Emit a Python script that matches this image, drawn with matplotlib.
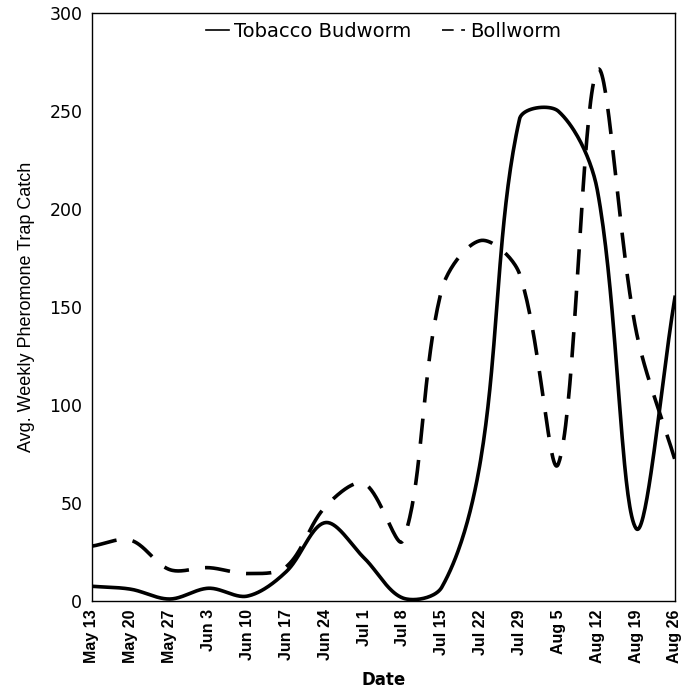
import numpy as np
import matplotlib
matplotlib.use("Agg")
import matplotlib.pyplot as plt

dates = ['May 13', 'May 20', 'May 27', 'Jun 3', 'Jun 10', 'Jun 17', 'Jun 24', 'Jul 1',
         'Jul 8', 'Jul 15', 'Jul 22', 'Jul 29', 'Aug 5', 'Aug 12', 'Aug 19', 'Aug 26']
budworm = [7.5, 6, 1, 6.5, 2.5, 15, 40, 22, 1.5, 7, 72, 246, 250, 210, 37, 155]
bollworm = [28, 31, 16, 17, 14, 17.5, 48, 60, 31, 159, 184, 167, 70, 271, 138, 72]

# rough screen scale of the plot area (px per week, px per catch unit)
SX, SY = 38.9, 1.96


def smooth(y, n=40):
    # spreadsheet style smoothed line: bezier pieces, control points
    # scaled by neighbouring segment lengths on screen
    x = np.arange(len(y)) * SX
    yy = np.asarray(y, float) * SY
    P = np.column_stack([x, yy])
    P = np.vstack([P[0], P, P[-1]])
    out = []
    for i in range(1, len(P) - 2):
        p0, p1, p2, p3 = P[i - 1], P[i], P[i + 1], P[i + 2]
        d01 = np.hypot(*(p1 - p0))
        d12 = np.hypot(*(p2 - p1))
        d23 = np.hypot(*(p3 - p2))
        c1 = p1 + (p2 - p0) * (d12 / (d01 + d12)) / 3 if d01 + d12 > 0 else p1
        c2 = p2 - (p3 - p1) * (d12 / (d12 + d23)) / 3 if d12 + d23 > 0 else p2
        t = np.linspace(0, 1, n)[:, None]
        seg = (1 - t)**3 * p1 + 3 * (1 - t)**2 * t * c1 + 3 * (1 - t) * t**2 * c2 + t**3 * p2
        out.append(seg if i == 1 else seg[1:])
    out = np.vstack(out)
    return out[:, 0] / SX, out[:, 1] / SY


fig = plt.figure(figsize=(6.99, 6.98), dpi=100)
ax = fig.add_axes([0.1316, 0.139, 0.834, 0.842])

x1, y1 = smooth(budworm)
x2, y2 = smooth(bollworm)
ax.plot(x1, y1, color='black', lw=2.6, label='Tobacco Budworm')
ax.plot(x2, y2, color='black', lw=2.6, dashes=(7, 4.5), label='Bollworm')

ax.set_xlim(0, len(dates) - 1)
ax.set_ylim(0, 300)
ax.set_xticks(range(len(dates)))
ax.set_xticklabels(dates, rotation=90, fontsize=11.5, fontweight='bold', family='Liberation Sans')
ax.set_yticks([0, 50, 100, 150, 200, 250, 300])
ax.set_yticklabels(['0', '50', '100', '150', '200', '250', '300'], fontsize=12.5,
                   family='DejaVu Sans')
ax.tick_params(axis='x', length=0, pad=6)
ax.tick_params(axis='y', length=0, pad=7)
for s in ax.spines.values():
    s.set_linewidth(1.0)

ax.set_xlabel('Date', fontsize=12, fontweight='bold', family='DejaVu Sans', labelpad=6)
ax.set_ylabel('Avg. Weekly Pheromone Trap Catch', fontsize=13, family='Liberation Sans',
              labelpad=10)

leg = ax.legend(loc='upper center', ncol=2, frameon=False,
                handlelength=1.2, handletextpad=0.25, columnspacing=1.6,
                borderaxespad=0.05, prop={'family': 'DejaVu Sans', 'size': 14})
for h in leg.get_lines():
    h.set_linewidth(1.2)

fig.savefig('out.png', dpi=100)
